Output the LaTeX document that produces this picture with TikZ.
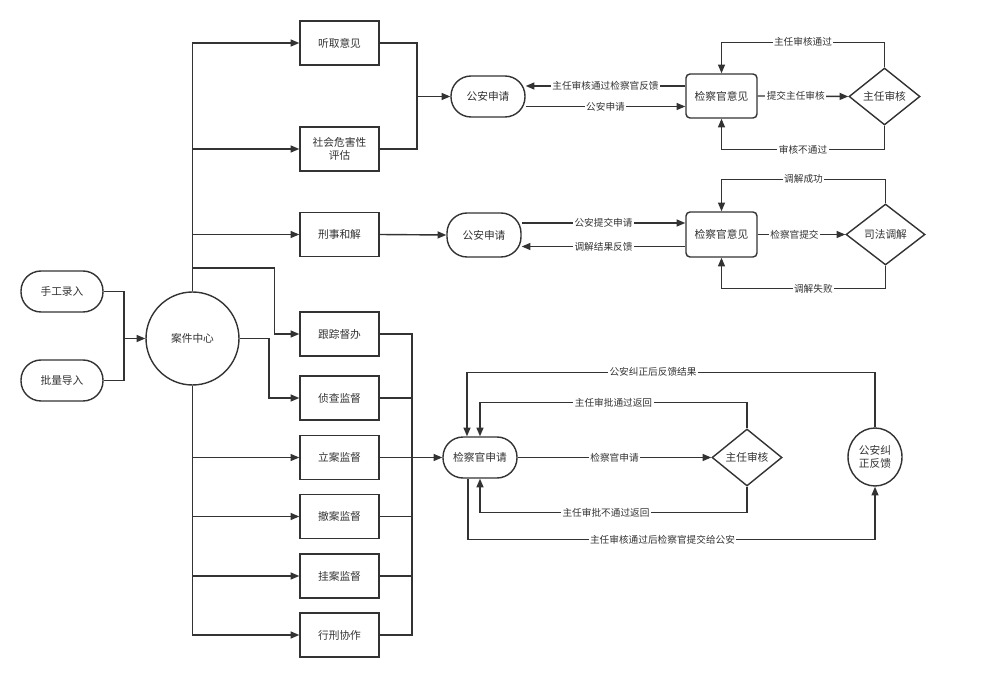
\documentclass[tikz,border=0pt]{standalone}
\usepackage{fontspec}
\setmainfont{Noto Sans CJK SC}
\usetikzlibrary{arrows.meta,shapes.geometric,calc}
\definecolor{ln}{HTML}{333333}
\begin{document}
\begin{tikzpicture}[x=0.02cm,y=-0.02cm,
  every node/.style={text=ln, font=\fontsize{6.1}{7.4}\selectfont, inner sep=0pt, align=center},
  box/.style={draw=ln, line width=0.8pt, minimum width=1.58cm, minimum height=0.88cm},
  pill/.style={draw=ln, line width=0.8pt, rounded corners=0.4cm},
  rbox/.style={draw=ln, line width=0.8pt, rounded corners=0.08cm, minimum width=1.42cm, minimum height=0.88cm},
  dia/.style={draw=ln, line width=0.8pt, diamond},
  circ/.style={draw=ln, line width=0.8pt, circle, minimum size=1.86cm},
  ell/.style={draw=ln, line width=0.8pt, ellipse, minimum width=1.08cm, minimum height=1.16cm},
  ln/.style={draw=ln, line width=0.8pt},
  arr/.style={ln, -{Triangle[length=5pt,width=4pt]}},
  lbl/.style={fill=white, font=\fontsize{5.5}{6.5}\selectfont, inner sep=0.8pt}
]
\fill[white] (0,0) rectangle (1000,678);
\useasboundingbox (0,0) rectangle (1000,678);

% left column boxes
\node[box] (tq) at (339.5,43) {听取意见};
\node[box] (sh) at (339.5,149) {社会危害性\\评估};
\node[box] (xs) at (339.5,234.5) {刑事和解};
\node[box] (gz) at (339.5,334) {跟踪督办};
\node[box] (zc) at (339.5,398) {侦查监督};
\node[box] (la) at (339.5,457.5) {立案监督};
\node[box] (ca) at (339.5,516.5) {撤案监督};
\node[box] (gu) at (339.5,576) {挂案监督};
\node[box] (xx) at (339.5,635) {行刑协作};

\node[pill, minimum width=1.64cm, minimum height=0.82cm] (sg) at (62,291.5) {手工录入};
\node[pill, minimum width=1.64cm, minimum height=0.82cm] (pl) at (62,380.5) {批量导入};
\node[circ] (aj) at (192.5,338.5) {案件中心};

% top group
\node[pill, minimum width=1.48cm, minimum height=0.82cm] (ga1) at (488,96.5) {公安申请};
\node[rbox] (jy1) at (721.5,96) {检察官意见};
\node[dia, minimum width=1.42cm, minimum height=1.14cm] (zr1) at (884.5,96.5) {主任审核};

% middle group
\node[pill, minimum width=1.48cm, minimum height=0.88cm] (ga2) at (484,235) {公安申请};
\node[rbox, minimum height=0.9cm] (jy2) at (721.5,234.5) {检察官意见};
\node[dia, minimum width=1.58cm, minimum height=1.22cm] (sf) at (885.5,234.5) {司法调解};

% bottom group
\node[pill, minimum width=1.48cm, minimum height=0.82cm] (jsq) at (480,457.5) {检察官申请};
\node[dia, minimum width=1.4cm, minimum height=1.14cm] (zr2) at (747,457.5) {主任审核};
\node[ell] (gj) at (875,457) {公安纠\\正反馈};

% junctions
\coordinate (j1) at (124,338.5);
\coordinate (j2) at (417,96.5);
\coordinate (j3) at (412,457.5);

% inputs
\draw[ln] (sg.east) -| (j1);
\draw[ln] (pl.east) -| (j1);
\draw[arr] (j1) -- (aj.west);

% trunk up
\draw[arr] (aj.north) |- (tq.west);
\draw[arr] (aj.north) |- (sh.west);
\draw[arr] (aj.north) |- (xs.west);
\draw[arr] (aj.north |- 0,268) -| ($(gz.west)+(-25,0)$) -- (gz.west);
\draw[arr] (aj.east) -- ++(29.5,0) |- (zc.west);
% trunk down
\draw[arr] (aj.south) |- (la.west);
\draw[arr] (aj.south) |- (ca.west);
\draw[arr] (aj.south) |- (gu.west);
\draw[arr] (aj.south) |- (xx.west);

% merge to top group
\draw[ln] (tq.east) -| (j2);
\draw[ln] (sh.east) -| (j2);
\draw[arr] (j2) -- (ga1.west);
\draw[arr] (xs.east) -- (ga2.west);

% merge to bottom group
\draw[ln] (gz.east) -| (j3);
\draw[ln] (zc.east) -| (j3);
\draw[ln] (la.east) -- (j3);
\draw[ln] (ca.east) -| (j3);
\draw[ln] (gu.east) -| (j3);
\draw[ln] (xx.east) -| (j3);
\draw[arr] (j3) -- (jsq.west);

% top group connectors
\coordinate (a1) at ([yshift=0.2cm]jy1.west);
\coordinate (a2) at ([yshift=-0.2cm]ga1.east);
\draw[arr] (a1) -- node[lbl]{主任审核通过检察官反馈} (a1 -| ga1.east);
\draw[arr] (a2) -- node[lbl]{公安申请} (a2 -| jy1.west);
\draw[arr] (jy1.east) -- node[lbl, pos=0.42]{提交主任审核} (zr1.west);
\draw[arr] (zr1.north) -- ++(0,-25) -| node[lbl, pos=0.25]{主任审核通过} (jy1.north);
\draw[arr] (zr1.south) -- ++(0,24) -| node[lbl, pos=0.25]{审核不通过} (jy1.south);

% middle group connectors
\coordinate (b1) at ([yshift=0.24cm]ga2.east);
\coordinate (b2) at ([yshift=-0.24cm]jy2.west);
\draw[arr] (b1) -- node[lbl]{公安提交申请} (b1 -| jy2.west);
\draw[arr] (b2) -- node[lbl]{调解结果反馈} (b2 -| ga2.east);
\draw[arr] (jy2.east) -- node[lbl, pos=0.42]{检察官提交} (sf.west);
\draw[arr] (sf.north) -- ++(0,-24) -| node[lbl, pos=0.25]{调解成功} (jy2.north);
\draw[arr] (sf.south) -- ++(0,23) -| node[lbl, pos=0.22]{调解失败} (jy2.south);

% bottom group connectors
\draw[arr] (jsq.east) -- node[lbl]{检察官申请} (zr2.west);
\draw[arr] (zr2.north) -- ++(0,-26) -| node[lbl, pos=0.25]{主任审批通过返回} (jsq.north);
\draw[arr] (zr2.south) -- ++(0,26) -| node[lbl, pos=0.264]{主任审批不通过返回} (jsq.south);
\draw[arr] (gj.north) -- ++(0,-55) -| node[lbl, pos=0.272]{公安纠正后反馈结果} ($(jsq.north)+(-13,0)$);
\draw[arr] ($(jsq.south)+(-12,0)$) |- node[lbl, pos=0.739]{主任审核通过后检察官提交给公安} ($(gj.south)+(0,53)$) -- (gj.south);
\end{tikzpicture}
\end{document}
